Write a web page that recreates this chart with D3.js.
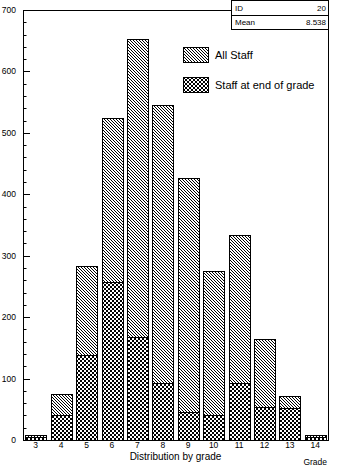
<!DOCTYPE html>
<html>
<head>
<meta charset="utf-8">
<script src="https://cdn.jsdelivr.net/npm/d3@7"></script>
<style>
  body { margin: 0; background: #fff; }
  svg { display: block; }
  text { font-family: "Liberation Sans", Arial, sans-serif; fill: #000; }
</style>
</head>
<body>
<div id="chart"></div>
<script>
// grades and counts
var grades = [3, 4, 5, 6, 7, 8, 9, 10, 11, 12, 13, 14];
var allStaff = [8, 75, 283, 524, 653, 545, 426, 275, 334, 164, 71, 8];
var endOfGrade = [5, 40, 138, 257, 168, 92, 45, 41, 92, 54, 52, 5];
var yTicks = [0, 100, 200, 300, 400, 500, 600, 700];
var statLabels = ["ID", "Mean"];
var statValues = ["20", "8.538"];
var legendLabels = ["All Staff", "Staff at end of grade"];

var width = 352, height = 470;
var frame = { left: 23, right: 328, top: 10, bottom: 440 };

var svg = d3.select("#chart").append("svg")
  .attr("width", width)
  .attr("height", height);

// fill patterns
var defs = svg.append("defs");
var hatch = defs.append("pattern")
  .attr("id", "hatch")
  .attr("patternUnits", "userSpaceOnUse")
  .attr("width", 3).attr("height", 3);
hatch.append("rect").attr("width", 3).attr("height", 3).attr("fill", "#fff");
hatch.append("path")
  .attr("d", "M-1,-1 L4,4 M2,-1 L4,1 M-1,2 L1,4")
  .attr("stroke", "#000").attr("stroke-width", 1)
  .attr("shape-rendering", "crispEdges");

var checker = defs.append("pattern")
  .attr("id", "checker")
  .attr("patternUnits", "userSpaceOnUse")
  .attr("width", 4).attr("height", 4);
checker.append("rect").attr("width", 4).attr("height", 4).attr("fill", "#fff");
checker.append("rect").attr("x", 0).attr("y", 0).attr("width", 2).attr("height", 2).attr("fill", "#000");
checker.append("rect").attr("x", 2).attr("y", 2).attr("width", 2).attr("height", 2).attr("fill", "#000");

var x = d3.scaleLinear()
  .domain([2.5, 14.5])
  .range([frame.left, frame.right]);
var y = d3.scaleLinear()
  .domain([0, 700])
  .range([frame.bottom, frame.top]);

var binW = x(1) - x(0);
var barOff = 0.09, barW = 0.84;

function barX(d) { return Math.round(x(d - 0.5) + binW * barOff) + 0.5; }

// all staff bars (hatched)
svg.append("g")
  .selectAll("rect")
  .data(grades)
  .enter().append("rect")
  .attr("x", barX)
  .attr("y", (d, i) => Math.round(y(allStaff[i])) + 0.5)
  .attr("width", Math.round(binW * barW))
  .attr("height", (d, i) => Math.round(y(0)) - Math.round(y(allStaff[i])))
  .attr("fill", "url(#hatch)")
  .attr("stroke", "#000")
  .attr("stroke-width", 1);

// end of grade bars (checker, drawn over)
svg.append("g")
  .selectAll("rect")
  .data(grades)
  .enter().append("rect")
  .attr("x", barX)
  .attr("y", (d, i) => Math.round(y(endOfGrade[i])) + 0.5)
  .attr("width", Math.round(binW * barW))
  .attr("height", (d, i) => Math.round(y(0)) - Math.round(y(endOfGrade[i])))
  .attr("fill", "url(#checker)")
  .attr("stroke", "#000")
  .attr("stroke-width", 1);

// frame
svg.append("rect")
  .attr("x", frame.left + 0.5)
  .attr("y", frame.top + 0.5)
  .attr("width", frame.right - frame.left)
  .attr("height", frame.bottom - frame.top)
  .attr("fill", "none")
  .attr("stroke", "#000");

// y axis ticks, drawn inward
var minor = d3.range(0, 701, 20);
svg.append("g")
  .selectAll("line")
  .data(minor)
  .enter().append("line")
  .attr("x1", frame.left)
  .attr("x2", (d) => frame.left + (d % 100 === 0 ? 7 : 3.5))
  .attr("y1", (d) => Math.round(y(d)) + 0.5)
  .attr("y2", (d) => Math.round(y(d)) + 0.5)
  .attr("stroke", "#000");

svg.append("g")
  .selectAll("text")
  .data(yTicks)
  .enter().append("text")
  .attr("x", 16)
  .attr("y", (d) => y(d) + 3)
  .attr("text-anchor", "end")
  .attr("font-size", "8.5px")
  .text((d) => d);

// x labels at bin centers
svg.append("g")
  .selectAll("text")
  .data(grades)
  .enter().append("text")
  .attr("x", (d) => x(d))
  .attr("y", 447.5)
  .attr("text-anchor", "middle")
  .attr("font-size", "8.5px")
  .text((d) => d);

svg.append("text")
  .attr("x", (frame.left + frame.right) / 2)
  .attr("y", 460)
  .attr("text-anchor", "middle")
  .attr("font-size", "10px")
  .text("Distribution by grade");

svg.append("text")
  .attr("x", frame.right - 1)
  .attr("y", 465)
  .attr("text-anchor", "end")
  .attr("font-size", "8.5px")
  .text("Grade");

// legend
var legend = svg.append("g")
  .selectAll("g")
  .data(legendLabels)
  .enter().append("g")
  .attr("transform", (d, i) => "translate(183," + (47 + i * 30) + ")");
legend.append("rect")
  .attr("x", 0.5).attr("y", 0.5)
  .attr("width", 25).attr("height", 15)
  .attr("fill", (d, i) => i === 0 ? "url(#hatch)" : "url(#checker)")
  .attr("stroke", "#000");
legend.append("text")
  .attr("x", 32)
  .attr("y", 11.5)
  .attr("font-size", "11px")
  .text((d) => d);

// stats box
var stats = svg.append("g");
stats.append("rect")
  .attr("x", 231.5).attr("y", 0.5)
  .attr("width", frame.right - 231).attr("height", 29)
  .attr("fill", "#fff")
  .attr("stroke", "#000");
stats.append("line")
  .attr("x1", 231).attr("x2", frame.right)
  .attr("y1", 15.5).attr("y2", 15.5)
  .attr("stroke", "#000");
stats.selectAll("text.lab")
  .data(statLabels)
  .enter().append("text")
  .attr("class", "lab")
  .attr("x", 235)
  .attr("y", (d, i) => 10.5 + i * 14.5)
  .attr("font-size", "8px")
  .text((d) => d);
stats.selectAll("text.val")
  .data(statValues)
  .enter().append("text")
  .attr("class", "val")
  .attr("x", frame.right - 2)
  .attr("y", (d, i) => 10.5 + i * 14.5)
  .attr("text-anchor", "end")
  .attr("font-size", "8px")
  .text((d) => d);
</script>
</body>
</html>
